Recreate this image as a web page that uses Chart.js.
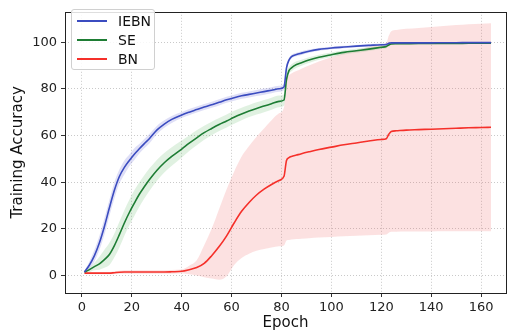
<!DOCTYPE html>
<html>
<head>
<meta charset="utf-8">
<script src="https://cdn.jsdelivr.net/npm/chart.js@4.4.1/dist/chart.umd.min.js"></script>
<style>
  body { margin: 0; background: #fff; }
  #wrap { position: relative; width: 508px; height: 336px; }
  #legenda {
    position: absolute; left: 71px; top: 9px; width: 82px; height: 59px;
    border: 1px solid #d0d0d0; border-radius: 3px; background: rgba(255,255,255,0.85);
    font-family: 'DejaVu Sans', sans-serif; font-size: 14px; color: #111;
  }
  #legenda .item { position: absolute; left: 0; height: 18px; line-height: 18px; width: 100%; }
  #legenda .linha { position: absolute; left: 5px; top: 8px; width: 30px; height: 2px; }
  #legenda .texto { position: absolute; left: 46px; top: 0; }
</style>
</head>
<body>
<div id="wrap">
  <canvas id="grafico" width="508" height="336"></canvas>
  <div id="legenda"></div>
</div>
<script>
// Epocas onde os valores foram lidos
const epocas = [1, 3, 5, 7, 9, 11, 13, 15, 17, 19, 21, 23, 25, 27, 30, 33, 36, 40, 43, 46,
    49, 52, 55, 58, 61, 64, 67, 70, 73, 76, 79, 81, 82, 83, 84, 86, 88, 91, 95, 100,
    105, 110, 115, 120, 122, 123, 124, 126, 130, 135, 140, 145, 150, 155, 160, 164];

// IEBN
const iebnMedia = [1.5, 4.5, 8.5, 14, 21, 29, 36.5, 42.4, 46.3, 49.3, 52, 54.3, 56.5, 58.6, 62.3, 64.9, 66.9, 68.8, 70, 71.1,
    72.2, 73.2, 74.2, 75.3, 76.2, 77, 77.6, 78.2, 78.8, 79.4, 80, 80.8, 89, 92.3, 93.8, 94.7, 95.3, 96.1, 96.9, 97.5,
    97.9, 98.3, 98.6, 98.9, 99, 99.5, 99.7, 99.7, 99.7, 99.7, 99.7, 99.75, 99.75, 99.8, 99.8, 99.8];
const iebnSup = [2, 6, 11, 17, 24.5, 32.5, 40, 45.4, 49.3, 51.8, 54.5, 56.3, 58.5, 60.6, 64.1, 66.5, 68.4, 70.1, 71.3, 72.4,
    73.5, 74.5, 75.5, 76.6, 77.5, 78.3, 78.9, 79.5, 80.1, 80.7, 81.3, 82.1, 90.5, 93.1, 94.6, 95.5, 96.1, 96.8, 97.5, 98,
    98.4, 98.8, 99.1, 99.4, 99.5, 99.8, 100, 100, 100, 100, 100, 100.05, 100.05, 100.1, 100.1, 100.1];
const iebnInf = [1, 3, 6, 11, 17.5, 25.5, 33, 39.4, 43.3, 46.8, 49.5, 52.3, 54.5, 56.6, 60.5, 63.3, 65.4, 67.5, 68.7, 69.8,
    70.9, 71.9, 72.9, 74, 74.9, 75.7, 76.3, 76.9, 77.5, 78.1, 78.7, 79.5, 87.5, 91.5, 93, 93.9, 94.5, 95.4, 96.3, 97,
    97.4, 97.8, 98.1, 98.4, 98.5, 99.2, 99.4, 99.4, 99.4, 99.4, 99.4, 99.45, 99.45, 99.5, 99.5, 99.5];

// SE
const seMedia = [1.5, 2.5, 3.8, 5, 6.8, 9, 12.8, 17.5, 22.5, 27, 31, 34.8, 38, 41, 45, 48.3, 51, 54.2, 56.7, 59,
    61.2, 63, 64.7, 66.2, 67.8, 69.2, 70.5, 71.6, 72.6, 73.6, 74.6, 75.2, 84, 87.8, 89, 90.4, 91.2, 92.3, 93.5, 94.6,
    95.6, 96.3, 97, 97.8, 98.1, 98.8, 99.2, 99.3, 99.35, 99.4, 99.4, 99.45, 99.45, 99.5, 99.5, 99.5];
const seSup = [2, 3.5, 5.5, 8, 11, 14, 18, 23, 28, 32.5, 36.5, 40, 43, 45.8, 49.5, 52.5, 55, 57.8, 60, 62.2,
    64.2, 65.9, 67.5, 69, 70.6, 71.9, 73.1, 74.2, 75.2, 76.2, 77.1, 77.7, 87, 89.3, 90.5, 91.8, 92.5, 93.5, 94.6, 95.6,
    96.5, 97.2, 97.8, 98.5, 98.8, 99.2, 99.5, 99.6, 99.65, 99.7, 99.7, 99.75, 99.75, 99.8, 99.8, 99.8];
const seInf = [1, 1.5, 2.3, 2.5, 3.3, 4.5, 7.8, 12, 17, 21.5, 25.5, 29.5, 33, 36.2, 40.5, 44.1, 47, 50.6, 53.4, 55.8,
    58.2, 60.1, 61.9, 63.4, 65, 66.5, 67.9, 69, 70, 71, 72.1, 72.7, 81, 86.3, 87.5, 89, 89.9, 91.1, 92.4, 93.6,
    94.7, 95.4, 96.2, 97.1, 97.4, 98.4, 98.9, 99, 99.05, 99.1, 99.1, 99.15, 99.15, 99.2, 99.2, 99.2];

// BN
const bnMedia = [1, 1, 1, 1, 1, 1, 1.2, 1.4, 1.5, 1.5, 1.5, 1.5, 1.5, 1.5, 1.5, 1.5, 1.6, 1.8, 2.5, 3.4,
    5.2, 8.5, 12.4, 17, 22.5, 27.5, 31.3, 34.5, 37, 39, 40.7, 42.5, 49.3, 50.5, 51, 51.6, 52.2, 53, 54, 55,
    56, 56.8, 57.6, 58.3, 58.6, 60.5, 61.7, 62, 62.3, 62.5, 62.7, 62.9, 63.1, 63.3, 63.4, 63.5];
const bnSup = [1.4, 1.5, 1.5, 1.5, 1.5, 1.5, 1.8, 2, 2.2, 2.2, 2.2, 2.2, 2.2, 2.2, 2.2, 2.2, 2.4, 2.6, 4.2, 6.5,
    13, 20, 28.5, 37, 44.5, 51, 55.5, 59.5, 63, 66.5, 69.5, 72, 83.6, 85.8, 86.6, 87.6, 88.6, 90, 91.7, 93.5,
    95.2, 96.6, 97.9, 99.1, 99.6, 102.7, 104.7, 105.2, 105.7, 106.1, 106.5, 106.9, 107.3, 107.7, 107.9, 108.1];
const bnInf = [0.6, 0.5, 0.5, 0.5, 0.5, 0.5, 0.6, 0.8, 0.8, 0.8, 0.8, 0.8, 0.8, 0.8, 0.8, 0.8, 0.8, 1, 0.5, 0,
    -0.7, -1.3, -1.8, -0.3, 4.5, 7.5, 9.3, 10.6, 11.4, 12, 12.5, 12.9, 15, 15.2, 15.4, 15.6, 15.8, 16, 16.3, 16.5,
    16.8, 17, 17.3, 17.5, 17.6, 18.3, 18.7, 18.8, 18.9, 18.9, 18.9, 19, 19, 19, 19, 19];

const ticksX = [0, 20, 40, 60, 80, 100, 120, 140, 160];
const ticksY = [0, 20, 40, 60, 80, 100];

const series = [
    { nome: 'IEBN', media: iebnMedia, sup: iebnSup, inf: iebnInf, cor: '#3b4cc0', faixa: 'rgba(110, 110, 215, 0.22)' },
    { nome: 'SE', media: seMedia, sup: seSup, inf: seInf, cor: '#1e7d34', faixa: 'rgba(60, 170, 70, 0.16)' },
    { nome: 'BN', media: bnMedia, sup: bnSup, inf: bnInf, cor: '#f5302a', faixa: 'rgba(240, 90, 90, 0.18)' }
];

const pontos = arr => arr.map((v, i) => ({ x: epocas[i], y: v }));

const datasets = [];
series.forEach((s, k) => {
    datasets.push({
        label: s.nome,
        data: pontos(s.media),
        borderColor: s.cor,
        borderWidth: 1.6,
        pointRadius: 0,
        cubicInterpolationMode: 'monotone',
        fill: false,
        order: k
    });
});
series.forEach((s, k) => {
    const idx = datasets.length;
    datasets.push({
        label: s.nome + ' sup',
        data: pontos(s.sup),
        borderWidth: 0,
        borderColor: 'rgba(0,0,0,0)',
        backgroundColor: s.faixa,
        pointRadius: 0,
        cubicInterpolationMode: 'monotone',
        fill: idx + 1,
        order: 10 + k
    });
    datasets.push({
        label: s.nome + ' inf',
        data: pontos(s.inf),
        borderWidth: 0,
        borderColor: 'rgba(0,0,0,0)',
        pointRadius: 0,
        cubicInterpolationMode: 'monotone',
        fill: false,
        order: 10 + k
    });
});

// moldura dos eixos (estilo matplotlib)
const moldura = {
    id: 'moldura',
    afterDatasetsDraw(chart) {
        const { ctx, chartArea: a } = chart;
        ctx.save();
        ctx.strokeStyle = '#222';
        ctx.lineWidth = 1;
        ctx.strokeRect(Math.round(a.left) + 0.5, Math.round(a.top) + 0.5,
            Math.round(a.right - a.left), Math.round(a.bottom - a.top));
        ctx.restore();
    }
};

const fonte = { family: "'DejaVu Sans', sans-serif", size: 13 };
const grade = { color: 'rgba(195, 195, 195, 0.9)', lineWidth: 1, tickColor: '#333', tickLength: 4 };

new Chart(document.getElementById('grafico'), {
    type: 'line',
    data: { datasets },
    plugins: [moldura],
    options: {
        responsive: false,
        animation: false,
        layout: { padding: { left: 9, right: 2, top: 3, bottom: 4 } },
        plugins: { legend: { display: false }, tooltip: { enabled: false } },
        scales: {
            x: {
                type: 'linear',
                min: -6.8,
                max: 170,
                afterBuildTicks: s => { s.ticks = ticksX.map(v => ({ value: v })); },
                afterFit: s => { s.height = 39; },
                ticks: { font: fonte, color: '#222', padding: 3, maxRotation: 0, callback: v => v },
                grid: grade,
                border: { display: false, dash: [1, 2] },
                title: { display: true, text: 'Epoch', font: { family: "'DejaVu Sans', sans-serif", size: 15 }, color: '#111', padding: 0 }
            },
            y: {
                min: -7.5,
                max: 113,
                afterBuildTicks: s => { s.ticks = ticksY.map(v => ({ value: v })); },
                afterFit: s => { s.width = 56; },
                ticks: { font: fonte, color: '#222', padding: 4, callback: v => v },
                grid: grade,
                border: { display: false, dash: [1, 2] },
                title: { display: true, text: 'Training Accuracy', font: { family: "'DejaVu Sans', sans-serif", size: 15 }, color: '#111', padding: 0 }
            }
        }
    }
});

// legenda em HTML
const legenda = document.getElementById('legenda');
legenda.innerHTML = series.map((s, i) =>
    `<div class="item" style="top:${2 + i * 19}px">
        <span class="linha" style="background:${s.cor}"></span>
        <span class="texto">${s.nome}</span>
    </div>`
).join('');
</script>
</body>
</html>
